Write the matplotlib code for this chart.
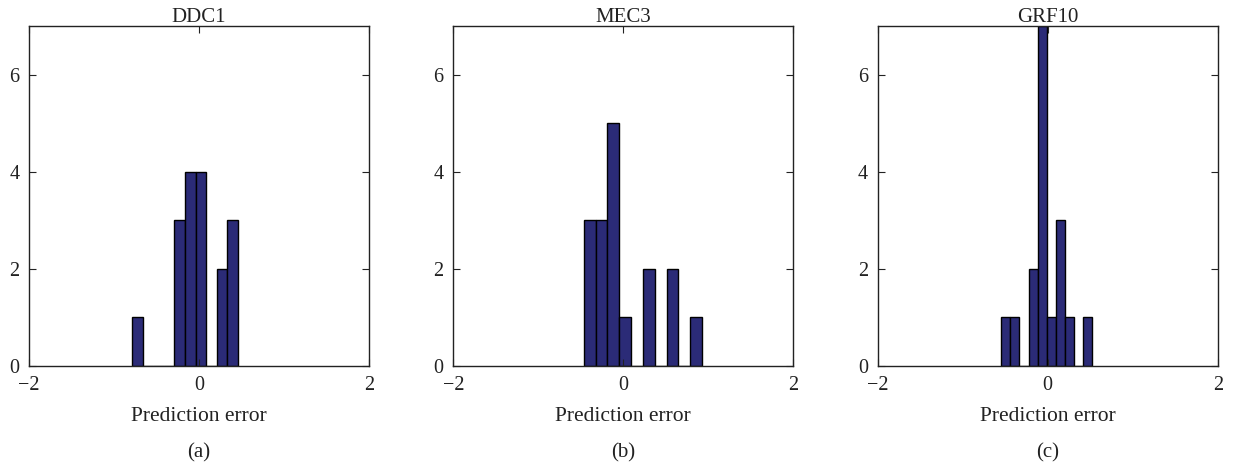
import numpy as np
import matplotlib
matplotlib.use("Agg")
import matplotlib.pyplot as plt

plt.rcParams['font.family'] = ['Liberation Serif', 'DejaVu Serif']

titles = ["DDC1", "MEC3", "GRF10"]
panel_labels = ["(a)", "(b)", "(c)"]
# bin ranges (min, max) of each histogram with 10 bins
bin_ranges = [(-0.785, 0.455), (-0.466, 0.927), (-0.546, 0.525)]
counts_a = [1, 0, 0, 0, 3, 4, 4, 0, 2, 3]
counts_b = [3, 3, 5, 1, 0, 2, 0, 2, 0, 1]
counts_c = [1, 1, 0, 2, 7, 1, 3, 1, 0, 1]
all_counts = [counts_a, counts_b, counts_c]
xticks = [-2, 0, 2]
yticks = [0, 2, 4, 6]

bar_color = "#2b2b77"
txt = "#222222"

fig = plt.figure(figsize=(12.35, 4.67), dpi=100)
lefts = [29/1235, 453.3/1235, 877.7/1235]
w = 340/1235
b = (467-366)/467
h = 340/467

for i in range(3):
    ax = fig.add_axes([lefts[i], b, w, h])
    lo, hi = bin_ranges[i]
    edges = np.linspace(lo, hi, len(all_counts[i]) + 1)
    width = edges[1] - edges[0]
    centers = edges[:-1] + width / 2
    ax.bar(centers, all_counts[i], width=width, color=bar_color,
           edgecolor="black", linewidth=1.0)
    ax.set_xlim(-2, 2)
    ax.set_ylim(0, 7)
    ax.set_xticks(xticks)
    ax.set_xticklabels(["\u22122", "0", "2"])
    ax.set_yticks(yticks)
    ax.tick_params(direction="in", top=True, right=True, labelsize=14.5,
                   length=5, width=0.8, colors=txt)
    ax.tick_params(axis="x", pad=7)
    ax.tick_params(axis="y", pad=7)
    for sp in ax.spines.values():
        sp.set_linewidth(1.0)
        sp.set_color(txt)
    ax.set_title(titles[i], fontsize=15, pad=3, color=txt)
    ax.set_xlabel("Prediction error", fontsize=15.5, labelpad=9, color=txt)
    ax.text(0.5, -0.255, panel_labels[i], transform=ax.transAxes,
            ha="center", va="center", fontsize=15, color=txt)

fig.savefig("out.png", dpi=100)
